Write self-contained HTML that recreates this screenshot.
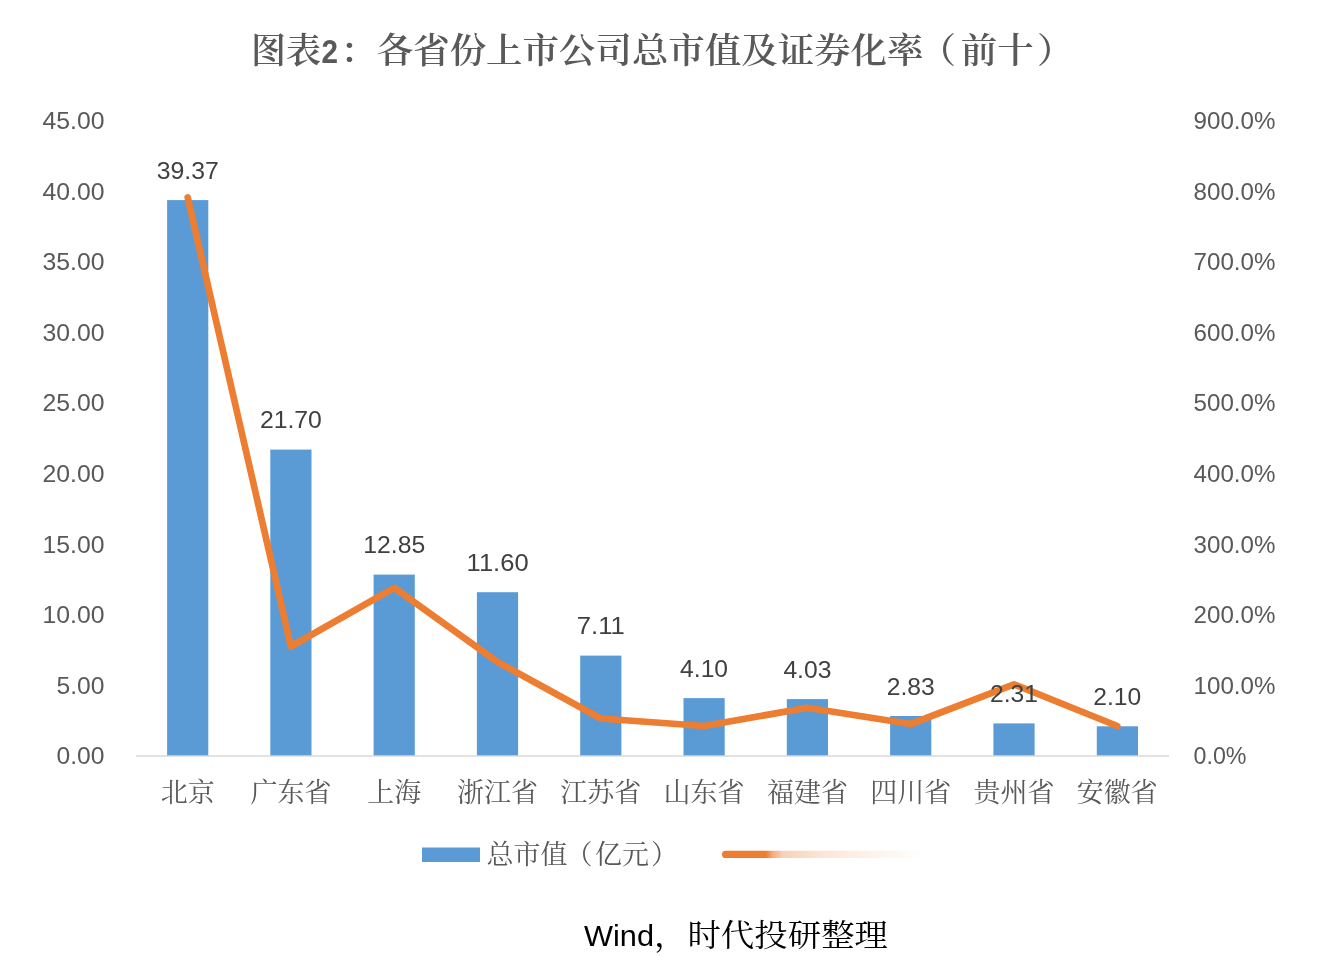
<!DOCTYPE html>
<html lang="zh-CN">
<head>
<meta charset="utf-8">
<title>图表2：各省份上市公司总市值及证券化率（前十）</title>
<style>
html,body{margin:0;padding:0;background:#fff;}
body{width:1331px;height:957px;overflow:hidden;}
svg{display:block;}
.num{font-family:'Liberation Sans', sans-serif;font-size:24px;}
.ax{fill:#595959;}
.dl{fill:#404040;}
.cat{font-family:'Liberation Serif', 'Noto Serif CJK SC', serif;font-size:27px;fill:#595959;}
.title{font-family:'Liberation Serif', 'Noto Serif CJK SC', serif;font-size:35px;font-weight:600;fill:#595959;}
.foot{font-family:'Liberation Serif', 'Noto Serif CJK SC', serif;font-size:31px;fill:#000;}
</style>
</head>
<body>
<svg width="1331" height="957" viewBox="0 0 1331 957">
<defs>
<linearGradient id="fade" x1="0" y1="0" x2="1" y2="0">
<stop offset="0" stop-color="#ED7D31"/>
<stop offset="0.215" stop-color="#ED7D31"/>
<stop offset="0.25" stop-color="#F4AE80"/>
<stop offset="0.30" stop-color="#F9D2B8"/>
<stop offset="0.5" stop-color="#FCE6D8"/>
<stop offset="0.75" stop-color="#FEF3EC"/>
<stop offset="1" stop-color="#ffffff"/>
</linearGradient>
</defs>
<rect x="0" y="0" width="1331" height="957" fill="#ffffff"/>

<text class="title" y="63"><tspan x="251" textLength="70" lengthAdjust="spacingAndGlyphs">图表</tspan><tspan x="321.5" style="font-family:'Liberation Sans', sans-serif;font-size:33px;font-weight:700" textLength="16.5" lengthAdjust="spacingAndGlyphs">2</tspan><tspan x="340.3" textLength="583.2" lengthAdjust="spacingAndGlyphs">：各省份上市公司总市值及证券化率</tspan><tspan x="919.5" textLength="36.5" lengthAdjust="spacingAndGlyphs">（</tspan><tspan x="960.7" textLength="72.9" lengthAdjust="spacingAndGlyphs">前十</tspan><tspan x="1037.0" textLength="36.5" lengthAdjust="spacingAndGlyphs">）</tspan></text>
<g class="num ax" text-anchor="end">
<text x="104.5" y="764.3" textLength="48" lengthAdjust="spacingAndGlyphs">0.00</text>
<text x="104.5" y="693.7" textLength="48" lengthAdjust="spacingAndGlyphs">5.00</text>
<text x="104.5" y="623.1" textLength="62" lengthAdjust="spacingAndGlyphs">10.00</text>
<text x="104.5" y="552.5" textLength="62" lengthAdjust="spacingAndGlyphs">15.00</text>
<text x="104.5" y="481.9" textLength="62" lengthAdjust="spacingAndGlyphs">20.00</text>
<text x="104.5" y="411.3" textLength="62" lengthAdjust="spacingAndGlyphs">25.00</text>
<text x="104.5" y="340.7" textLength="62" lengthAdjust="spacingAndGlyphs">30.00</text>
<text x="104.5" y="270.1" textLength="62" lengthAdjust="spacingAndGlyphs">35.00</text>
<text x="104.5" y="199.5" textLength="62" lengthAdjust="spacingAndGlyphs">40.00</text>
<text x="104.5" y="128.9" textLength="62" lengthAdjust="spacingAndGlyphs">45.00</text>
</g>
<g class="num ax">
<text x="1193.5" y="764.3" textLength="53" lengthAdjust="spacingAndGlyphs">0.0%</text>
<text x="1193.5" y="693.7" textLength="82" lengthAdjust="spacingAndGlyphs">100.0%</text>
<text x="1193.5" y="623.1" textLength="82" lengthAdjust="spacingAndGlyphs">200.0%</text>
<text x="1193.5" y="552.5" textLength="82" lengthAdjust="spacingAndGlyphs">300.0%</text>
<text x="1193.5" y="481.9" textLength="82" lengthAdjust="spacingAndGlyphs">400.0%</text>
<text x="1193.5" y="411.3" textLength="82" lengthAdjust="spacingAndGlyphs">500.0%</text>
<text x="1193.5" y="340.7" textLength="82" lengthAdjust="spacingAndGlyphs">600.0%</text>
<text x="1193.5" y="270.1" textLength="82" lengthAdjust="spacingAndGlyphs">700.0%</text>
<text x="1193.5" y="199.5" textLength="82" lengthAdjust="spacingAndGlyphs">800.0%</text>
<text x="1193.5" y="128.9" textLength="82" lengthAdjust="spacingAndGlyphs">900.0%</text>
</g>
<g fill="#5B9BD5">
<rect x="167.1" y="200.1" width="41.2" height="555.9"/>
<rect x="270.3" y="449.6" width="41.2" height="306.4"/>
<rect x="373.6" y="574.6" width="41.2" height="181.4"/>
<rect x="476.9" y="592.2" width="41.2" height="163.8"/>
<rect x="580.2" y="655.6" width="41.2" height="100.4"/>
<rect x="683.5" y="698.1" width="41.2" height="57.9"/>
<rect x="786.8" y="699.1" width="41.2" height="56.9"/>
<rect x="890.1" y="716.0" width="41.2" height="40.0"/>
<rect x="993.4" y="723.4" width="41.2" height="32.6"/>
<rect x="1096.8" y="726.3" width="41.2" height="29.7"/>
</g>
<line x1="136" y1="756" x2="1169" y2="756" stroke="#D9D9D9" stroke-width="1.5"/>
<polyline points="187.7,197.5 290.9,646.5 394.2,587.8 497.6,662.0 600.8,718.5 704.1,726.0 807.4,707.7 910.8,724.0 1014.0,684.4 1117.3,726.0" fill="none" stroke="#ED7D31" stroke-width="6.7" stroke-linecap="round" stroke-linejoin="round"/>
<g class="num dl" text-anchor="middle">
<text x="187.7" y="178.6" textLength="62" lengthAdjust="spacingAndGlyphs">39.37</text>
<text x="290.9" y="428.1" textLength="62" lengthAdjust="spacingAndGlyphs">21.70</text>
<text x="394.2" y="553.1" textLength="62" lengthAdjust="spacingAndGlyphs">12.85</text>
<text x="497.6" y="570.7" textLength="62" lengthAdjust="spacingAndGlyphs">11.60</text>
<text x="600.8" y="634.1" textLength="48" lengthAdjust="spacingAndGlyphs">7.11</text>
<text x="704.1" y="676.6" textLength="48" lengthAdjust="spacingAndGlyphs">4.10</text>
<text x="807.4" y="677.6" textLength="48" lengthAdjust="spacingAndGlyphs">4.03</text>
<text x="910.8" y="694.5" textLength="48" lengthAdjust="spacingAndGlyphs">2.83</text>
<text x="1014.0" y="701.9" textLength="48" lengthAdjust="spacingAndGlyphs">2.31</text>
<text x="1117.3" y="704.8" textLength="48" lengthAdjust="spacingAndGlyphs">2.10</text>
</g>
<g class="cat" text-anchor="middle">
<text x="187.7" y="802">北京</text>
<text x="290.9" y="802">广东省</text>
<text x="394.2" y="802">上海</text>
<text x="497.6" y="802">浙江省</text>
<text x="600.8" y="802">江苏省</text>
<text x="704.1" y="802">山东省</text>
<text x="807.4" y="802">福建省</text>
<text x="910.8" y="802">四川省</text>
<text x="1014.0" y="802">贵州省</text>
<text x="1117.3" y="802">安徽省</text>
</g>
<rect x="422" y="847.5" width="58" height="14.5" fill="#5B9BD5"/>
<text class="cat" y="864"><tspan x="486.5">总市值</tspan><tspan x="565.5">（</tspan><tspan x="595">亿元</tspan><tspan x="651">）</tspan></text>
<rect x="722" y="850.7" width="204" height="7.3" rx="3.6" fill="url(#fade)"/>
<text class="foot" y="946"><tspan x="584" style="font-family:'Liberation Sans', sans-serif;font-size:30px" textLength="70" lengthAdjust="spacingAndGlyphs">Wind</tspan><tspan x="654" textLength="234" lengthAdjust="spacingAndGlyphs">，时代投研整理</tspan></text>
</svg>
</body>
</html>
